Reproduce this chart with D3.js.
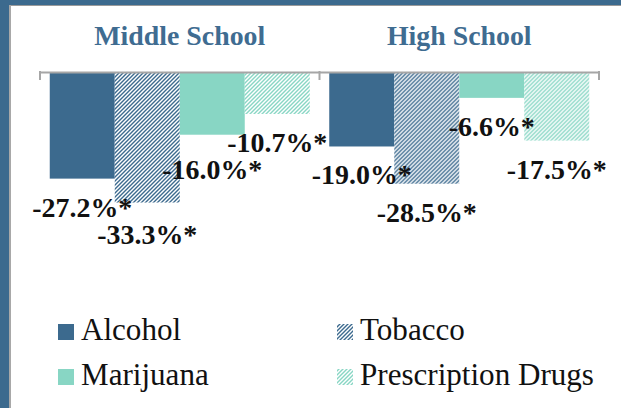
<!DOCTYPE html>
<html>
<head>
<meta charset="utf-8">
<script src="https://cdn.jsdelivr.net/npm/d3@7"></script>
<style>
  body { margin: 0; background: #fff; }
  svg { display: block; }
  text { font-family: "Liberation Serif", "DejaVu Serif", "Times New Roman", serif; }
</style>
</head>
<body>
<div id="chart"></div>
<script>
// data
const groups = ["Middle School", "High School"];
const series = ["Alcohol", "Tobacco", "Marijuana", "Prescription Drugs"];
const middleSchool = [-27.2, -33.3, -16.0, -10.7];
const highSchool = [-19.0, -28.5, -6.6, -17.5];
const legendRows = [["Alcohol", "Tobacco"], ["Marijuana", "Prescription Drugs"]];

const width = 621, height = 408;
const blue = "#3c6a8e", mint = "#88d6c4";
// fill style per series
const look = {
  "Alcohol": { color: blue, hatch: false },
  "Tobacco": { color: blue, hatch: true },
  "Marijuana": { color: mint, hatch: false },
  "Prescription Drugs": { color: mint, hatch: true }
};

let svg = d3.select("#chart")
    .append("svg")
        .attr("width", width)
        .attr("height", height);

//hatch patterns
let defs = svg.append("defs");
[["hatchBlue", blue], ["hatchMint", mint]].forEach(function(p) {
    let pat = defs.append("pattern")
        .attr("id", p[0])
        .attr("patternUnits", "userSpaceOnUse")
        .attr("width", 4)
        .attr("height", 4);
    pat.append("rect").attr("width", 4).attr("height", 4).attr("fill", "#fff");
    pat.append("path")
        .attr("d", "M-1,1 l2,-2 M0,4 l4,-4 M3,5 l2,-2")
        .attr("stroke", p[1])
        .attr("stroke-width", 1.4);
});
function fillOf(s) {
    let l = look[s];
    if (!l.hatch) return l.color;
    return l.color === blue ? "url(#hatchBlue)" : "url(#hatchMint)";
}

// shrink/grow a text so it spans the width seen in the picture
function fitWidth(sel, target) {
    let node = sel.node();
    let fs = parseFloat(sel.style("font-size"));
    let w = node.getComputedTextLength();
    if (w > 0) sel.style("font-size", (fs * target / w).toFixed(2) + "px");
}

//frame
svg.append("rect").attr("x", 0).attr("y", 0).attr("width", width).attr("height", 5).attr("fill", blue);
svg.append("rect").attr("x", 0).attr("y", 5).attr("width", width).attr("height", 1).attr("fill", "#9a9a9a");
svg.append("rect").attr("x", 0).attr("y", 0).attr("width", 9).attr("height", height).attr("fill", blue);
svg.append("rect").attr("x", 9).attr("y", 5).attr("width", 2).attr("height", height).attr("fill", "#a8a8a8");

//scales
let x0 = d3.scaleBand().domain(groups).range([40, 599]).padding(0);
let x1 = d3.scaleBand().domain(series).range([0, x0.bandwidth()]).paddingInner(0).paddingOuter(0.15);
let y = d3.scaleLinear().domain([-50, 0]).range([268, 72]);

let rows = groups.map(function(g, i) {
    let vals = i === 0 ? middleSchool : highSchool;
    return { group: g, values: series.map(function(s, j) { return { key: s, value: vals[j] }; }) };
});

//bars
let grp = svg.selectAll("g.grp")
    .data(rows)
    .enter()
    .append("g")
        .attr("class", "grp")
        .attr("transform", function(d) { return `translate(${x0(d.group)},0)`; });

grp.selectAll("rect")
    .data(function(d) { return d.values; })
    .enter()
    .append("rect")
        .attr("x", function(d) { return x1(d.key); })
        .attr("y", y(0))
        .attr("width", x1.bandwidth())
        .attr("height", function(d) { return y(d.value) - y(0); })
        .attr("fill", function(d) { return fillOf(d.key); });

//axis line at zero with group ticks
let axis = svg.append("g")
    .attr("transform", `translate(0,${y(0)})`)
    .call(d3.axisBottom(x0).tickValues([]).tickSizeOuter(0));
axis.select(".domain").attr("stroke", "#a6a6a6").attr("stroke-width", 2);
let edges = [x0.range()[0]].concat(groups.map(function(g) { return x0(g) + x0.bandwidth(); }));
axis.selectAll("line.edge")
    .data(edges)
    .enter()
    .append("line")
        .attr("class", "edge")
        .attr("x1", function(d) { return d; })
        .attr("x2", function(d) { return d; })
        .attr("y1", -1)
        .attr("y2", 8)
        .attr("stroke", "#a6a6a6")
        .attr("stroke-width", 2);

//group titles
let titles = svg.selectAll("text.title")
    .data(groups)
    .enter()
    .append("text")
        .attr("class", "title")
        .attr("x", function(d) { return x0(d) + x0.bandwidth() / 2; })
        .attr("y", 45)
        .attr("text-anchor", "middle")
        .style("font-weight", "bold")
        .style("font-size", "27px")
        .attr("fill", "#3f6c91")
        .text(function(d) { return d; });
fitWidth(titles.filter(function(d, i) { return i === 0; }), 171);
titles.style("font-size", titles.filter(function(d, i) { return i === 0; }).style("font-size"));

//value labels under bar ends
let labels = grp.selectAll("text.val")
    .data(function(d) { return d.values; })
    .enter()
    .append("text")
        .attr("class", "val")
        .attr("x", function(d) { return x1(d.key) + x1.bandwidth() / 2; })
        .attr("y", function(d) { return y(d.value) + 38; })
        .attr("text-anchor", "middle")
        .style("font-weight", "bold")
        .style("font-size", "28px")
        .attr("fill", "#111")
        .text(function(d) { return d.value.toFixed(1) + "%*"; });
let first = labels.filter(function(d) { return d.value === middleSchool[0]; });
fitWidth(first, 100);
labels.style("font-size", first.style("font-size"));

// push a label down when it runs into one placed above it
let lineH = 27;
grp.each(function() {
    let placed = [];
    let items = d3.select(this).selectAll("text.val").nodes()
        .map(function(n) { return { n: n, b: n.getBBox(), yy: +n.getAttribute("y") }; })
        .sort(function(a, b) { return a.yy - b.yy; });
    items.forEach(function(it) {
        placed.forEach(function(p) {
            let xo = it.b.x < p.b.x + p.b.width && p.b.x < it.b.x + it.b.width;
            if (xo && it.yy - p.yy < lineH) it.yy = p.yy + lineH;
        });
        it.n.setAttribute("y", it.yy);
        placed.push(it);
    });
});

//legend
let leg = svg.append("g").attr("class", "legend");
legendRows.forEach(function(row, r) {
    row.forEach(function(s, c) {
        let lx = c === 0 ? 58 : 337;
        let ly = 324 + r * 45;
        leg.append("rect")
            .attr("x", lx).attr("y", ly)
            .attr("width", 16).attr("height", 16)
            .attr("fill", fillOf(s));
        leg.append("text")
            .attr("x", lx + 23)
            .attr("y", ly + 16)
            .style("font-size", "30px")
            .attr("fill", "#111")
            .text(s);
    });
});
let legText = leg.selectAll("text");
let longest = legText.filter(function() { return this.textContent === "Prescription Drugs"; });
fitWidth(longest, 234);
legText.style("font-size", longest.style("font-size"));
</script>
</body>
</html>
